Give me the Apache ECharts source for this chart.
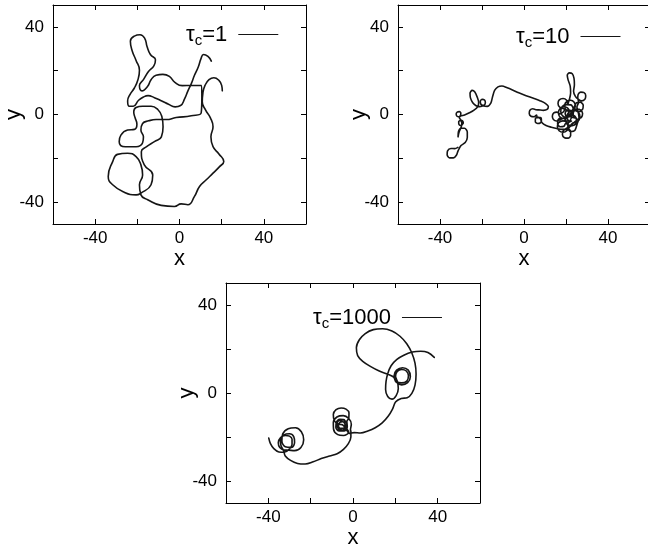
<!DOCTYPE html>
<html><head><meta charset="utf-8">
<script src="https://cdn.jsdelivr.net/npm/echarts@6/dist/echarts.min.js"></script>
<style>html,body{margin:0;padding:0;background:#fff}#c{width:648px;height:552px}</style>
</head><body><div id="c"></div>
<script>
// ---- data ----
const seriesNames = ['1', '10', '1000'];          // tau_c values
const xRange = [-60, 60];
const yRange = [-50, 50];
const xTicks = [-40, -20, 0, 20, 40];
const yTicks = [-40, -20, 0, 20, 40];
const xTickLabels = [-40, 0, 40];
const yTickLabels = [-40, 0, 40];

const traj1 = [
[15.1,24.4],[13.5,26.5],[11.4,27.4],[10.2,25.5],[8.9,21.7],[7.1,17.9],[5.6,14.1],[4.0,10.8],[2.4,7.1],[0.5,4.1],
[-2.1,3.5],[-5.2,4.7],[-8.4,6.2],[-11.9,7.7],[-14.9,8.6],[-17.1,8.0],[-19.4,6.5],[-21.9,3.8],[-23.8,3.8],[-24.6,6.2],
[-23.5,9.1],[-21.4,12.1],[-19.8,15.6],[-19.0,20.2],[-20.6,24.7],[-22.5,29.2],[-23.3,33.5],[-21.4,35.8],[-18.7,36.4],[-16.5,34.8],
[-15.4,31.1],[-13.8,27.4],[-11.4,25.0],[-12.1,22.3],[-14.8,19.5],[-17.1,15.9],[-19.0,13.2],[-17.8,10.8],[-15.1,12.9],[-13.5,15.9],
[-11.1,17.9],[-7.9,18.3],[-4.8,17.4],[-2.2,14.7],[1.3,13.2],[5.6,13.3],[10.3,13.2],[10.6,8.0],[10.3,0.8],[5.6,-0.6],
[-1.6,-1.4],[-6.3,-2.3],[-11.1,-2.3],[-14.6,-2.9],[-17.5,-4.1],[-18.3,-7.1],[-17.1,-10.2],[-17.5,-12.9],[-20.6,-14.7],[-25.7,-14.7],
[-28.6,-12.4],[-27.8,-9.4],[-24.6,-7.1],[-21.4,-6.8],[-20.2,-4.4],[-21.1,-1.4],[-21.7,1.2],[-20.6,3.2],[-17.5,3.8],[-13.5,3.8],
[-10.3,2.3],[-8.4,-0.8],[-7.8,-5.6],[-8.6,-10.2],[-11.9,-12.4],[-15.6,-14.7],[-18.1,-17.0],[-16.7,-23.0],[-12.7,-27.6],[-13.5,-32.1],
[-18.3,-35.9],[-20.6,-36.7],[-26.2,-35.5],[-31.7,-32.1],[-33.8,-28.3],[-31.7,-21.5],[-29.4,-18.2],[-24.6,-17.7],[-20.6,-19.2],[-18.3,-23.0],
[-17.5,-27.6],[-19.0,-32.1],[-18.3,-36.7],[-15.1,-38.9],[-8.7,-41.5],[-2.4,-42.0],[0.8,-40.8],[4.0,-41.2],[7.1,-37.4],[9.5,-32.9],
[12.7,-29.8],[15.9,-26.8],[19.0,-23.8],[21.0,-21.5],[18.7,-18.0],[15.9,-14.7],[14.9,-10.2],[15.9,-5.6],[14.6,-1.4],[12.4,2.0],
[10.8,5.8],[11.1,9.8],[12.1,13.3],[14.0,15.9],[16.3,16.8],[18.7,15.6],[20.0,13.3],[20.3,10.8]
];

const traj10 = [
[-31.5,-15.0],[-33.0,-15.6],[-34.8,-15.5],[-36.4,-16.6],[-36.6,-18.4],[-35.4,-19.8],[-33.6,-19.8],[-32.2,-18.6],[-31.4,-16.6],[-30.0,-14.2],
[-28.0,-12.8],[-27.0,-10.5],[-27.0,-8.0],[-28.3,-6.3],[-30.0,-6.3],[-31.2,-7.8],[-31.4,-10.2],[-30.9,-8.0],[-30.0,-6.0],[-29.6,-4.8],
[-28.9,-3.9],[-29.3,-2.9],[-30.2,-2.7],[-31.1,-3.3],[-31.0,-4.5],[-30.2,-5.0],[-29.6,-4.2],[-30.0,-2.6],[-30.8,-1.5],
[-30.2,-0.3],[-30.1,0.7],[-30.8,1.3],[-31.8,1.1],[-32.3,0.2],[-31.9,-0.8],[-31.0,-1.0],[-30.0,-0.6],[-28.3,-0.2],[-26.0,0.8],[-23.8,2.0],[-22.0,3.6],
[-21.6,5.5],[-22.3,8.0],[-23.4,10.3],[-24.7,11.0],[-25.7,9.8],[-25.5,7.6],[-24.4,5.4],[-22.8,4.0],[-21.2,3.6],
[-19.0,4.3],[-18.4,5.4],[-18.8,6.6],[-19.9,6.9],[-20.8,6.1],[-20.6,4.8],[-19.4,4.0],[-17.5,3.7],[-15.8,5.2],[-15.0,8.0],
[-14.0,11.0],[-12.4,12.6],[-10.5,13.0],[-8.0,12.2],[-5.5,11.2],[-2.5,9.9],[1.0,8.6],[4.5,7.4],[7.8,6.2],[10.3,5.0],
[11.6,3.6],[11.0,2.3],[9.2,1.9],[7.0,2.1],
[5.6,2.2],[4.2,2.6],[2.8,1.9],[2.5,0.4],[3.3,-0.8],[4.9,-1.0],[6.0,-0.2],[6.3,-1.5],
[7.8,-1.4],[8.3,-2.6],[7.8,-3.8],[6.5,-4.1],[5.4,-3.3],[5.4,-2.0],[6.5,-1.2],[7.8,-2.0],[8.6,-3.8],[10.5,-5.0],
[13.0,-5.8],[16.0,-6.5],[18.2,-6.8],
[19.4,-6.8],[21.0,-6.6],[22.2,-7.8],[22.2,-9.6],[21.0,-10.8],[19.3,-10.6],[18.3,-9.3],[18.6,-7.6],[20.3,-6.2],
[22.6,-5.2],[24.4,-4.5],[25.0,-2.6],[24.3,-0.8],[22.4,0.0],[20.5,-0.8],[19.8,-2.6],[20.5,-4.3],[22.0,-4.9],[24.0,-3.5],
[25.8,-2.0],[27.4,-1.2],[27.9,0.4],[27.0,2.0],[25.3,2.5],[23.8,1.6],[23.4,0.0],[24.3,-1.6],
[21.2,-0.5],[21.5,1.4],[20.7,3.0],[19.0,3.4],[17.2,2.7],[16.4,0.9],[17.0,-1.0],[18.8,-1.8],[20.6,-1.0],
[17.0,-2.4],[15.5,-3.0],[14.0,-2.3],[13.5,-0.8],[14.2,0.7],[15.7,1.1],[17.2,0.3],
[19.6,2.6],[19.4,4.4],[20.4,6.0],[22.2,6.5],[23.9,5.6],[24.4,3.8],[23.5,2.0],[21.6,1.3],[20.0,2.2],
[17.0,3.4],[16.2,5.0],[16.8,6.7],[18.6,7.3],[20.3,6.5],[20.8,4.8],
[21.6,6.8],[22.2,9.8],[22.0,13.0],[21.0,15.8],[20.6,17.9],[21.6,19.0],[23.0,18.6],[23.8,16.6],[24.0,13.6],[23.6,10.6],[24.4,8.4],
[25.8,7.0],[27.4,6.2],[29.0,7.0],[29.4,8.6],[28.6,10.0],[27.0,10.2],[25.8,9.2],[25.6,7.6],
[26.0,5.6],[25.2,3.4],[25.8,1.2],[26.2,-1.6],[25.4,-4.0],[24.2,-7.3],[22.2,-7.8],[20.9,-6.2],[21.0,-4.0],[22.6,-3.0],
[19.9,-3.0],[19.3,-1.8],[17.8,-1.6],[16.2,-2.4],[16.0,-4.2],[17.2,-5.6],[19.0,-5.4],[19.9,-4.0],
[21.0,-5.0],[20.3,-3.3],[18.5,-2.9],[16.5,-3.7],[15.9,-5.5],[16.7,-7.4],[18.6,-8.1],[20.5,-7.3],
[23.0,-4.0],[25.6,-3.2],[26.6,-1.0],[25.7,1.2],[23.5,2.0],[21.4,1.1],[20.5,-1.0],[21.4,-3.1],
[23.2,0.3],[23.4,2.6],[22.3,4.4],[20.3,4.5],[18.2,3.6],[17.5,1.4],[18.4,-0.6],[20.6,-1.4],
[24.4,2.0],[26.2,1.3],[27.9,2.4],[28.2,4.2],[26.8,5.6],[25.0,5.4],[24.0,3.6],
[21.5,-1.0],[22.8,1.2],[21.0,2.2],[19.6,0.6],[20.6,-1.2],[22.2,-0.6]
];

const traj1000 = [
[-39.8,-20.5],[-39.0,-23.0],[-37.4,-25.3],[-35.0,-26.8],[-32.5,-26.9],
[-30.2,-25.6],[-28.8,-23.4],[-28.8,-21.0],[-30.0,-19.6],[-32.0,-19.3],[-34.2,-20.2],[-35.3,-22.6],[-34.6,-24.8],[-32.6,-25.9],
[-30.4,-26.0],[-27.6,-26.2],[-24.6,-24.8],[-23.3,-21.2],[-24.4,-17.6],[-27.2,-15.8],[-30.6,-16.2],[-33.2,-18.6],[-33.6,-21.8],[-32.0,-24.4],
[-29.0,-24.7],[-27.6,-22.4],[-28.0,-19.8],[-30.0,-18.5],[-32.6,-19.0],[-34.3,-21.2],[-34.0,-24.0],[-32.8,-26.2],
[-32.0,-28.6],[-29.5,-30.6],[-26.2,-32.0],[-22.6,-32.3],[-18.8,-31.3],[-15.0,-29.8],[-11.0,-28.6],[-7.5,-27.6],[-4.5,-25.6],[-2.2,-23.0],
[-1.0,-20.0],[-1.0,-17.4],
[-1.2,-16.8],[-0.8,-14.2],[-2.0,-11.6],[-4.6,-10.3],[-7.6,-10.9],[-9.3,-13.4],[-9.2,-16.4],[-7.2,-18.9],[-4.5,-19.3],[-2.0,-17.8],
[-3.1,-15.8],[-3.0,-13.6],[-4.6,-12.3],[-6.6,-12.5],[-7.6,-14.2],[-6.9,-16.3],[-5.0,-16.9],[-3.4,-15.7],
[-3.8,-14.0],[-4.8,-13.0],[-6.3,-13.4],[-6.9,-14.8],[-6.0,-16.1],[-4.5,-16.0],[-3.8,-14.8],
[-4.0,-12.3],[-6.2,-12.0],[-7.9,-13.4],[-8.1,-15.6],[-6.5,-17.3],[-4.1,-17.3],[-2.7,-15.4],[-2.9,-12.9],
[-2.0,-11.5],[-1.9,-9.0],[-3.3,-7.3],[-5.6,-6.8],[-8.0,-7.6],[-9.3,-9.8],[-8.9,-12.4],[-7.2,-14.1],[-5.0,-14.4],
[-3.0,-16.8],[-1.8,-18.4],[0.5,-18.0],[3.5,-18.2],[7.0,-17.3],[10.5,-15.8],[13.8,-13.6],[16.6,-10.6],[18.6,-7.4],[20.2,-4.0],
[22.8,-2.5],[25.6,-2.2],[27.8,-0.2],[29.3,3.6],[29.8,8.6],[29.3,13.6],[27.8,18.2],[25.4,22.4],[22.2,25.8],[18.4,28.2],
[14.0,29.2],[9.6,28.8],[5.8,27.0],[3.0,24.2],[1.6,20.6],[2.2,17.0],[4.6,14.4],[8.4,12.0],[12.4,10.0],[16.2,8.6],[19.2,7.2],
[20.3,5.0],[23.0,3.7],[25.8,4.7],[27.1,7.4],[26.1,10.4],[23.4,11.5],[20.6,10.4],[19.4,7.8],
[20.4,5.4],[22.9,4.6],[25.4,5.4],[26.2,7.8],[25.2,10.0],[23.0,10.7],[20.9,9.8],[20.1,7.6],[21.0,5.2],
[21.4,2.0],[20.4,-1.2],[18.4,-2.8],[16.4,-1.6],[15.4,1.6],[15.6,5.2],[16.4,8.8],[18.0,12.4],[20.6,15.2],[24.0,17.2],
[28.0,18.6],[32.0,19.0],[35.4,18.4],[38.4,16.2]
];

const trajectories = [traj1, traj10, traj1000];

// ---- layout ----
const FONT = "'Liberation Sans', Arial, Helvetica, sans-serif";
const grids = [
  {left: 53, top: 5, width: 253, height: 219},
  {left: 398, top: 5, width: 252, height: 219},
  {left: 226, top: 283, width: 254, height: 220}
];
const smoothing = [0.5, 0.3, 0.35];
const legendPos = [
  {left: 181, top: 16},
  {left: 511, top: 18},
  {left: 308, top: 299}
];

const xAxes = [], yAxes = [], series = [], legends = [];
grids.forEach((g, i) => {
  const common = {
    gridIndex: i, type: 'value', splitLine: {show: false},
    axisLine: {show: true, onZero: false, lineStyle: {color: '#000', width: 1}},
  };
  xAxes.push(Object.assign({}, common, {
    position: 'bottom', min: xRange[0], max: xRange[1],
    axisTick: {show: true, inside: true, length: 5, customValues: xTicks, lineStyle: {color: '#000'}},
    axisLabel: {show: true, customValues: xTickLabels, fontSize: 17, color: '#000', fontFamily: FONT, margin: 6},
    name: 'x', nameLocation: 'middle', nameGap: 21,
    nameTextStyle: {fontSize: 22, color: '#000', fontFamily: FONT}
  }));
  xAxes.push(Object.assign({}, common, {
    position: 'top', min: xRange[0], max: xRange[1],
    axisTick: {show: true, inside: true, length: 5, customValues: xTicks, lineStyle: {color: '#000'}},
    axisLabel: {show: false}
  }));
  yAxes.push(Object.assign({}, common, {
    position: 'left', min: yRange[0], max: yRange[1],
    axisTick: {show: true, inside: true, length: 5, customValues: yTicks, lineStyle: {color: '#000'}},
    axisLabel: {show: true, customValues: yTickLabels, fontSize: 17, color: '#000', fontFamily: FONT, margin: 9},
    name: 'y', nameLocation: 'middle', nameGap: 28, nameRotate: 90, nameMoveOverlap: false,
    nameTextStyle: {fontSize: 22, color: '#000', fontFamily: FONT}
  }));
  yAxes.push(Object.assign({}, common, {
    position: 'right', min: yRange[0], max: yRange[1],
    axisTick: {show: true, inside: true, length: 5, customValues: yTicks, lineStyle: {color: '#000'}},
    axisLabel: {show: false}
  }));

  const name = 'τc=' + seriesNames[i];
  series.push({
    name: name, type: 'line', xAxisIndex: 2 * i, yAxisIndex: 2 * i,
    data: trajectories[i], showSymbol: false, symbol: 'none', smooth: smoothing[i],
    lineStyle: {color: '#151515', width: 1.6, join: 'round', cap: 'round'}, itemStyle: {color: '#151515'},
    animation: false
  });
  legends.push({
    data: [name], left: legendPos[i].left, top: legendPos[i].top,
    orient: 'horizontal', align: 'right', icon: 'rect',
    itemWidth: 40, itemHeight: 1.2, selectedMode: false,
    formatter: () => '{t|τ}{s|c}{t|=' + seriesNames[i] + '}{g|}',
    textStyle: {
      color: '#000', fontFamily: FONT,
      rich: {
        t: {fontSize: 22, fontFamily: FONT, color: '#000', lineHeight: 24},
        s: {fontSize: 15, fontFamily: FONT, color: '#000', padding: [12, 0, 0, 0], lineHeight: 14},
        g: {width: 6}
      }
    }
  });
});

const chart = echarts.init(document.getElementById('c'), null, {renderer: 'canvas'});
chart.setOption({
  animation: false,
  backgroundColor: '#fff',
  grid: grids.map(g => Object.assign({containLabel: false, outerBoundsMode: 'none'}, g)),
  xAxis: xAxes, yAxis: yAxes, series: series, legend: legends
});
</script></body></html>
